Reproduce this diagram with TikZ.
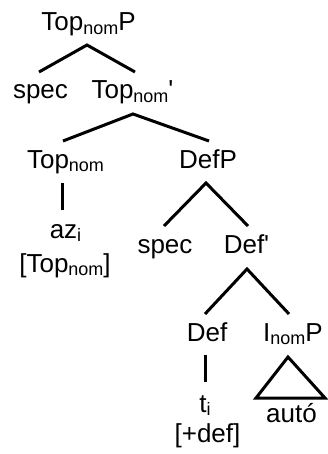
\documentclass[tikz,border=0pt]{standalone}
\usepackage{fontspec}
\setmainfont{Liberation Sans}
\newcommand\mysub[1]{\raisebox{-3.5pt}{\fontsize{18}{18}\selectfont #1}}
\newcommand\pr{\textquotesingle}
\begin{document}
\begin{tikzpicture}[x=1pt,y=1pt,
  lab/.style={anchor=base,inner sep=0pt,font=\fontsize{26}{31}\selectfont},
  br/.style={line width=3pt,line cap=butt}]
\useasboundingbox (0,0) rectangle (327,-454);
\node[lab] (tp) at (88.5,-31) {Top\mysub{nom}P};
\node[lab] (s1) at (40.5,-99) {spec};
\node[lab] (tb) at (132.5,-99) {Top\mysub{nom}\pr};
\node[lab] (tn) at (65.5,-168) {Top\mysub{nom}};
\node[lab] (dp) at (208,-168) {DefP};
\node[lab] (az) at (65.5,-238) {az\mysub{i}};
\node[lab] (tf) at (65,-272) {[Top\mysub{nom}]};
\node[lab] (s2) at (165,-253) {spec};
\node[lab] (db) at (246.5,-253) {Def\pr};
\node[lab] (df) at (207,-341) {Def};
\node[lab] (ip) at (293,-341) {I\mysub{nom}P};
\node[lab] (ti) at (205,-412) {t\mysub{i}};
\node[lab] (pd) at (207.5,-442) {[+def]};
\node[lab] (au) at (291.5,-422) {autó};
% branches
\draw[br] ([shift={(-1.5,27)}]s1.base) -- ([shift={(-1.5,-14)}]tp.base) -- ([shift={(2.5,27)}]tb.base);
\draw[br] ([shift={(-2.5,27)}]tn.base) -- ([shift={(0.5,-15)}]tb.base) -- ([shift={(1,27)}]dp.base);
\draw[br] ([shift={(-3.5,-15)}]tn.base) -- ([shift={(-3.5,28)}]az.base);
\draw[br] ([shift={(-1,27)}]s2.base) -- ([shift={(-2,-15)}]dp.base) -- ([shift={(1.5,27)}]db.base);
\draw[br] ([shift={(-2,27)}]df.base) -- ([shift={(0.5,-16)}]db.base) -- ([shift={(-4,27)}]ip.base);
\draw[br] ([shift={(-2,-14)}]df.base) -- ([shift={(0,30)}]ti.base);
\draw[br,line join=miter] ([shift={(-5,-16)}]ip.base) -- ([shift={(-35.5,24)}]au.base) -- ([shift={(33.5,24)}]au.base) -- cycle;
\end{tikzpicture}
\end{document}
